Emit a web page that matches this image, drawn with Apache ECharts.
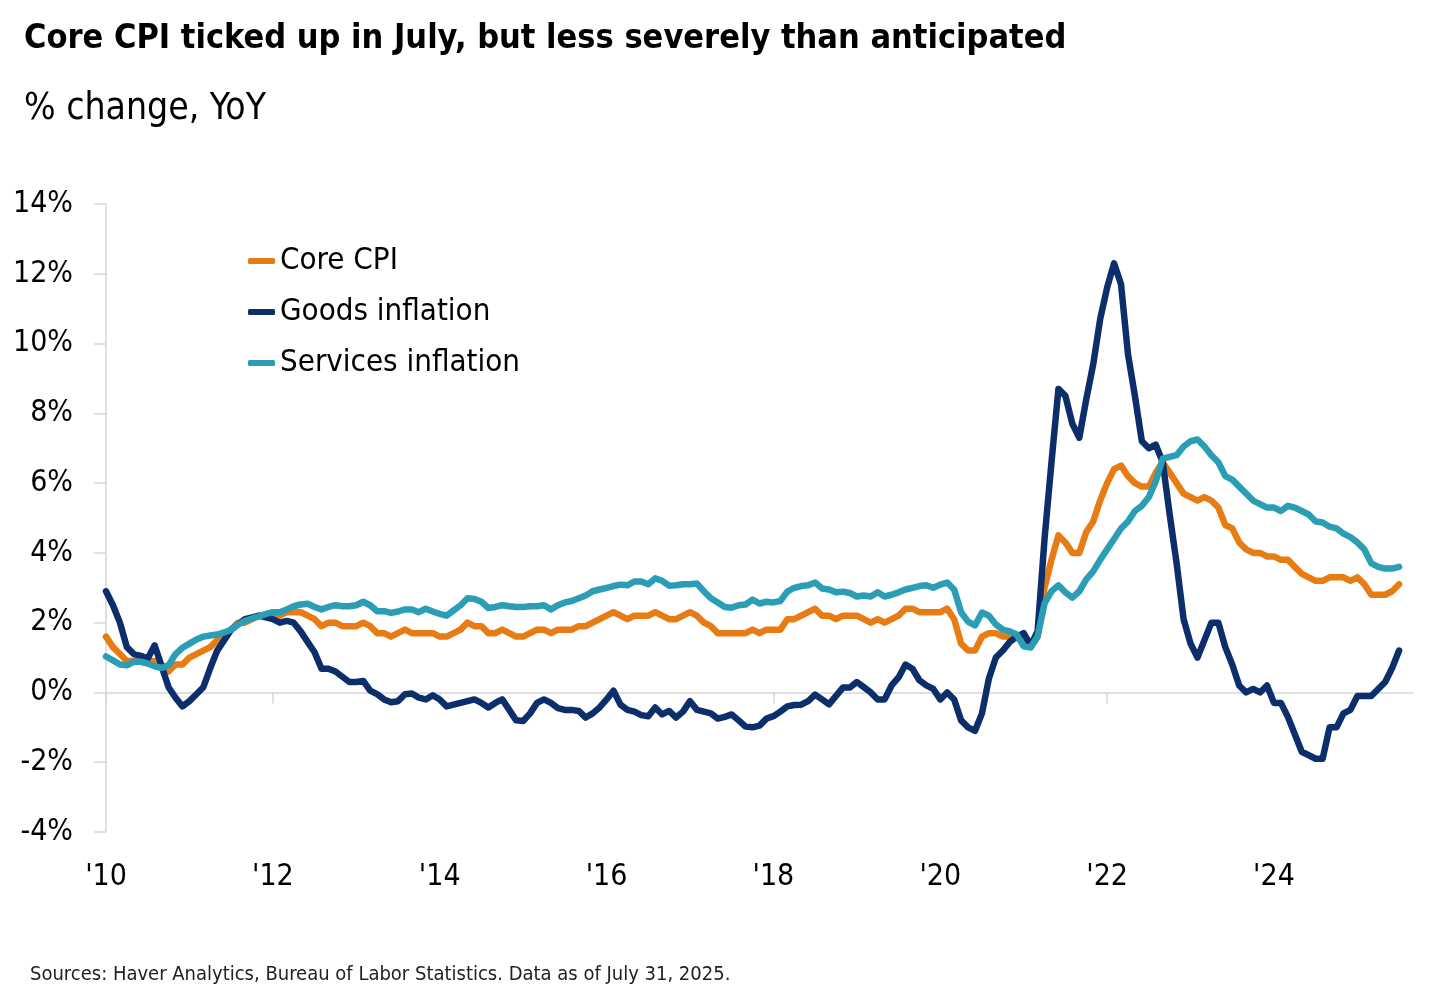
<!DOCTYPE html>
<html>
<head>
<meta charset="utf-8">
<title>Core CPI</title>
<script src="https://cdn.jsdelivr.net/npm/echarts@6.0.0/dist/echarts.min.js"></script>
<style>
  html, body { margin: 0; padding: 0; background: #fff; }
  .chart { width: 1440px; height: 1001px; }
</style>
</head>
<body>
<div class="chart"></div>
<script>
// data, monthly YoY %, Jan 2010 - Jul 2025
var coreCPI = [
  1.6, 1.3, 1.1, 0.9, 0.9, 0.9, 0.9, 0.9, 0.8, 0.6, 0.8, 0.8,
  1.0, 1.1, 1.2, 1.3, 1.5, 1.6, 1.8, 2.0, 2.0, 2.1, 2.2, 2.2,
  2.3, 2.2, 2.3, 2.3, 2.3, 2.2, 2.1, 1.9, 2.0, 2.0, 1.9, 1.9,
  1.9, 2.0, 1.9, 1.7, 1.7, 1.6, 1.7, 1.8, 1.7, 1.7, 1.7, 1.7,
  1.6, 1.6, 1.7, 1.8, 2.0, 1.9, 1.9, 1.7, 1.7, 1.8, 1.7, 1.6,
  1.6, 1.7, 1.8, 1.8, 1.7, 1.8, 1.8, 1.8, 1.9, 1.9, 2.0, 2.1,
  2.2, 2.3, 2.2, 2.1, 2.2, 2.2, 2.2, 2.3, 2.2, 2.1, 2.1, 2.2,
  2.3, 2.2, 2.0, 1.9, 1.7, 1.7, 1.7, 1.7, 1.7, 1.8, 1.7, 1.8,
  1.8, 1.8, 2.1, 2.1, 2.2, 2.3, 2.4, 2.2, 2.2, 2.1, 2.2, 2.2,
  2.2, 2.1, 2.0, 2.1, 2.0, 2.1, 2.2, 2.4, 2.4, 2.3, 2.3, 2.3,
  2.3, 2.4, 2.1, 1.4, 1.2, 1.2, 1.6, 1.7, 1.7, 1.6, 1.6, 1.6,
  1.4, 1.3, 1.6, 3.0, 3.8, 4.5, 4.3, 4.0, 4.0, 4.6, 4.9, 5.5,
  6.0, 6.4, 6.5, 6.2, 6.0, 5.9, 5.9, 6.3, 6.6, 6.3, 6.0, 5.7,
  5.6, 5.5, 5.6, 5.5, 5.3, 4.8, 4.7, 4.3, 4.1, 4.0, 4.0, 3.9,
  3.9, 3.8, 3.8, 3.6, 3.4, 3.3, 3.2, 3.2, 3.3, 3.3, 3.3, 3.2,
  3.3, 3.1, 2.8, 2.8, 2.8, 2.9, 3.1
];
var goodsInflation = [
  2.9, 2.5, 2.0, 1.3, 1.1, 1.05, 0.97, 1.35, 0.75, 0.15, -0.15, -0.4,
  -0.25, -0.05, 0.15, 0.7, 1.2, 1.5, 1.8, 1.95, 2.1, 2.15, 2.2, 2.15,
  2.1, 2.0, 2.05, 2.0, 1.75, 1.45, 1.15, 0.68, 0.68, 0.6, 0.45, 0.3,
  0.3, 0.33, 0.05, -0.05, -0.2, -0.28, -0.25, -0.05, -0.03, -0.15, -0.2, -0.08,
  -0.2, -0.4, -0.35, -0.3, -0.25, -0.2, -0.3, -0.43, -0.3, -0.2, -0.5, -0.8,
  -0.82, -0.6, -0.3, -0.2, -0.3, -0.45, -0.5, -0.5, -0.53, -0.72, -0.6, -0.43,
  -0.2, 0.05, -0.35, -0.5, -0.55, -0.65, -0.68, -0.43, -0.63, -0.53, -0.72, -0.55,
  -0.25, -0.5, -0.55, -0.6, -0.75, -0.7, -0.63, -0.8, -0.98, -1.0, -0.95, -0.75,
  -0.68, -0.55, -0.4, -0.36, -0.35, -0.25, -0.06, -0.2, -0.34, -0.1, 0.14, 0.14,
  0.3, 0.15, 0.0, -0.2, -0.2, 0.2, 0.43, 0.8, 0.68, 0.35, 0.2, 0.1,
  -0.2, 0.0, -0.2, -0.8, -1.0, -1.1, -0.6, 0.4, 1.0, 1.2, 1.45, 1.6,
  1.7, 1.35, 1.75, 4.4, 6.6, 8.7, 8.5, 7.7, 7.3, 8.4, 9.4, 10.7,
  11.6, 12.3, 11.7, 9.7, 8.5, 7.2, 7.0, 7.1, 6.6, 5.1, 3.7, 2.1,
  1.4, 1.0, 1.5, 2.0, 2.0, 1.3, 0.8, 0.2, 0.0, 0.1, 0.0, 0.2,
  -0.3, -0.3, -0.7, -1.2, -1.7, -1.8, -1.9, -1.9, -1.0, -1.0, -0.6, -0.5,
  -0.1, -0.1, -0.1, 0.1, 0.3, 0.7, 1.2
];
var servicesInflation = [
  1.03, 0.92, 0.8, 0.78, 0.88, 0.88, 0.83, 0.75, 0.7, 0.78, 1.1, 1.28,
  1.4, 1.52, 1.6, 1.63, 1.66, 1.72, 1.8, 1.95, 2.05, 2.12, 2.18, 2.25,
  2.3, 2.3, 2.38, 2.47, 2.52, 2.54, 2.45, 2.38, 2.45, 2.5, 2.47, 2.47,
  2.5, 2.6, 2.5, 2.33, 2.33, 2.28, 2.32, 2.38, 2.38, 2.3, 2.4, 2.32,
  2.25, 2.2, 2.35, 2.5, 2.7, 2.68, 2.6, 2.42, 2.45, 2.5, 2.47, 2.45,
  2.45, 2.47, 2.47, 2.5, 2.38, 2.5, 2.58, 2.62, 2.7, 2.78, 2.9, 2.95,
  3.0, 3.05, 3.09, 3.07, 3.18, 3.18, 3.1, 3.27, 3.2, 3.06, 3.07, 3.1,
  3.1, 3.12, 2.9, 2.7, 2.58, 2.45, 2.43, 2.5, 2.52, 2.66, 2.55, 2.6,
  2.58, 2.62, 2.89, 3.0, 3.05, 3.07, 3.15, 2.98, 2.95, 2.87, 2.89, 2.85,
  2.75, 2.78, 2.75, 2.87, 2.75, 2.8, 2.87, 2.95, 3.0, 3.05, 3.07, 3.0,
  3.09, 3.15, 2.95, 2.3, 2.03, 1.92, 2.29, 2.2, 1.95, 1.8, 1.75, 1.66,
  1.32, 1.29, 1.6, 2.55, 2.9, 3.07, 2.87, 2.72, 2.9, 3.24, 3.47, 3.8,
  4.1, 4.4, 4.7, 4.9, 5.2, 5.35, 5.6, 6.05, 6.7, 6.75, 6.8, 7.05,
  7.2, 7.25, 7.05, 6.8, 6.6, 6.2, 6.1, 5.9, 5.7, 5.5, 5.4, 5.3,
  5.3, 5.2, 5.35, 5.3, 5.2, 5.1, 4.9, 4.87, 4.75, 4.7, 4.55, 4.45,
  4.3, 4.1, 3.7, 3.6, 3.55, 3.55, 3.6
];
var seriesNames = ["Core CPI", "Goods inflation", "Services inflation"];
var seriesColors = ["#E77B14", "#0C2F6B", "#2B9EB6"];
// x axis runs Jan 2010 - Sep 2025, labels every other January
var startYear = 2010;
var monthCount = 189;
var months = [];
for (var i = 0; i < monthCount; i++) {
  var y = startYear + Math.floor(i / 12);
  var m = (i % 12) + 1;
  months.push(y + "-" + (m < 10 ? "0" + m : m));
}
var yearTickLabels = ["'10", "'12", "'14", "'16", "'18", "'20", "'22", "'24"];

(function () {
  var font = "'DejaVu Sans Condensed', 'Liberation Sans Narrow', 'Roboto', sans-serif";
  var myChart = echarts.init(document.querySelector(".chart"));

  var option = {
    animation: false,
    textStyle: { fontFamily: font, color: "#000" },
    title: [
      {
        text: "Core CPI ticked up in July, but less severely than anticipated",
        left: 19,
        top: 17,
        textStyle: { fontFamily: font, fontSize: 34, fontWeight: "bold", color: "#000" },
      },
      {
        text: "% change, YoY",
        left: 19,
        top: 86,
        textStyle: { fontFamily: font, fontSize: 37, fontWeight: "normal", color: "#000" },
      },
      {
        text: "Sources: Haver Analytics, Bureau of Labor Statistics. Data as of July 31, 2025.",
        left: 25,
        top: 960,
        textStyle: { fontFamily: font, fontSize: 20, fontWeight: "normal", color: "#222" },
      },
    ],
    legend: {
      data: seriesNames,
      orient: "vertical",
      left: 243,
      top: 240,
      itemWidth: 27,
      itemHeight: 6,
      itemGap: 19,
      icon: "roundRect",
      textStyle: { fontFamily: font, fontSize: 31, lineHeight: 32, color: "#000" },
    },
    grid: {
      left: 106,
      right: 27,
      top: 204,
      bottom: 169,
      containLabel: false,
    },
    xAxis: [
      {
        // 年份标签，放在底部
        type: "category",
        data: months,
        boundaryGap: false,
        position: "bottom",
        axisLine: { show: false, onZero: false },
        axisTick: { show: false },
        axisLabel: {
          interval: function (idx) { return idx % 24 === 0; },
          formatter: function (val, idx) { return yearTickLabels[idx / 24] || ""; },
          margin: 30,
          fontFamily: font,
          fontSize: 30,
          color: "#000",
        },
      },
      {
        // 0% 线和刻度
        type: "category",
        data: months,
        boundaryGap: false,
        position: "bottom",
        axisLine: { show: true, onZero: true, lineStyle: { color: "#d6d6d6", width: 1.5 } },
        axisTick: {
          show: true,
          interval: function (idx) { return idx % 24 === 0; },
          length: 11,
          lineStyle: { color: "#d6d6d6", width: 1.5 },
        },
        axisLabel: { show: false },
      },
    ],
    yAxis: {
      type: "value",
      min: -4,
      max: 14,
      interval: 2,
      axisLine: { show: true, lineStyle: { color: "#d6d6d6", width: 1.5 } },
      axisTick: { show: true, length: 12, lineStyle: { color: "#d6d6d6", width: 1.5 } },
      splitLine: { show: false },
      axisLabel: {
        formatter: "{value}%",
        margin: 33,
        fontFamily: font,
        fontSize: 30,
        color: "#000",
      },
    },
    series: seriesNames.map(function (name, k) {
      var vals = k === 0 ? coreCPI : k === 1 ? goodsInflation : servicesInflation;
      return {
        name: name,
        type: "line",
        xAxisIndex: 0,
        data: vals,
        showSymbol: false,
        symbol: "none",
        color: seriesColors[k],
        lineStyle: { width: 6.5, color: seriesColors[k], cap: "round", join: "round" },
        z: 2 + k,
      };
    }),
  };

  myChart.setOption(option);
  window.addEventListener("resize", function () {
    myChart.resize();
  });
})();
</script>
</body>
</html>
